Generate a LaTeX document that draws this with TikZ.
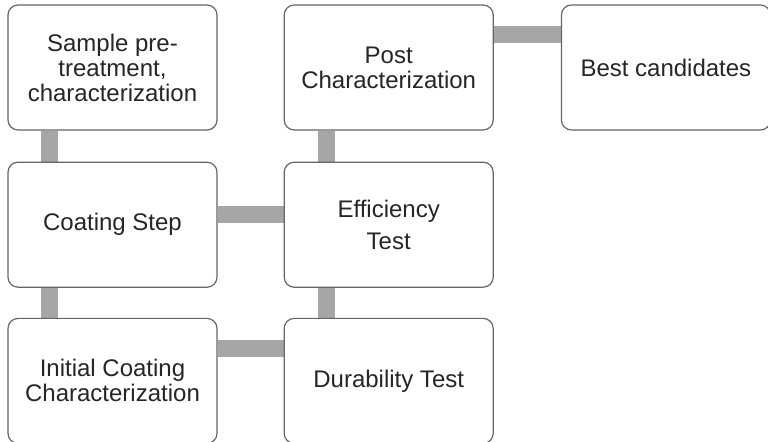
\documentclass[tikz,border=0pt]{standalone}
\usepackage{fontspec}
\setmainfont{Liberation Sans}
\usetikzlibrary{positioning,backgrounds}

\tikzset{
  stepbox/.style={draw=black!60, line width=0.6pt, rounded corners=5pt, fill=white,
    minimum width=104.5pt, minimum height=62.5pt, align=center, text=black!85,
    font=\fontsize{12}{12.5}\selectfont},
  link/.style={draw=black!35, line width=8.5pt}
}

\begin{document}
\begin{tikzpicture}
  \useasboundingbox (0,0) rectangle (384pt,-221pt);

  % left column
  \node[stepbox] (prep) at (56.25pt,-33.75pt) {Sample pre-\\treatment,\\characterization};
  \node[stepbox, below=15.5pt of prep] (coat) {Coating Step};
  \node[stepbox, below=15pt of coat] (init) {Initial Coating\\Characterization};
  % middle column
  \node[stepbox, right=33pt of prep] (post) {Post\\Characterization};
  \node[stepbox, right=33pt of coat] (eff) {Efficiency\\[3.5pt]Test};
  \node[stepbox, right=33pt of init] (dur) {Durability Test};
  % result
  \node[stepbox, right=33.5pt of post] (best) {Best candidates};

  % grey bars between the boxes
  \begin{scope}[on background layer]
    \draw[link] ([xshift=21pt]prep.south west) -- ([xshift=21pt]coat.north west);
    \draw[link] ([xshift=21pt]coat.south west) -- ([xshift=21pt]init.north west);
    \draw[link] ([yshift=-26.5pt]coat.north east) -- ([yshift=-26.5pt]eff.north west);
    \draw[link] ([yshift=-15.25pt]init.north east) -- ([yshift=-15.25pt]dur.north west);
    \draw[link] ([xshift=21.5pt]dur.north west) -- ([xshift=21.5pt]eff.south west);
    \draw[link] ([xshift=21.5pt]eff.north west) -- ([xshift=21.5pt]post.south west);
    \draw[link] ([yshift=-15.25pt]post.north east) -- ([yshift=-15.25pt]best.north west);
  \end{scope}
\end{tikzpicture}
\end{document}
